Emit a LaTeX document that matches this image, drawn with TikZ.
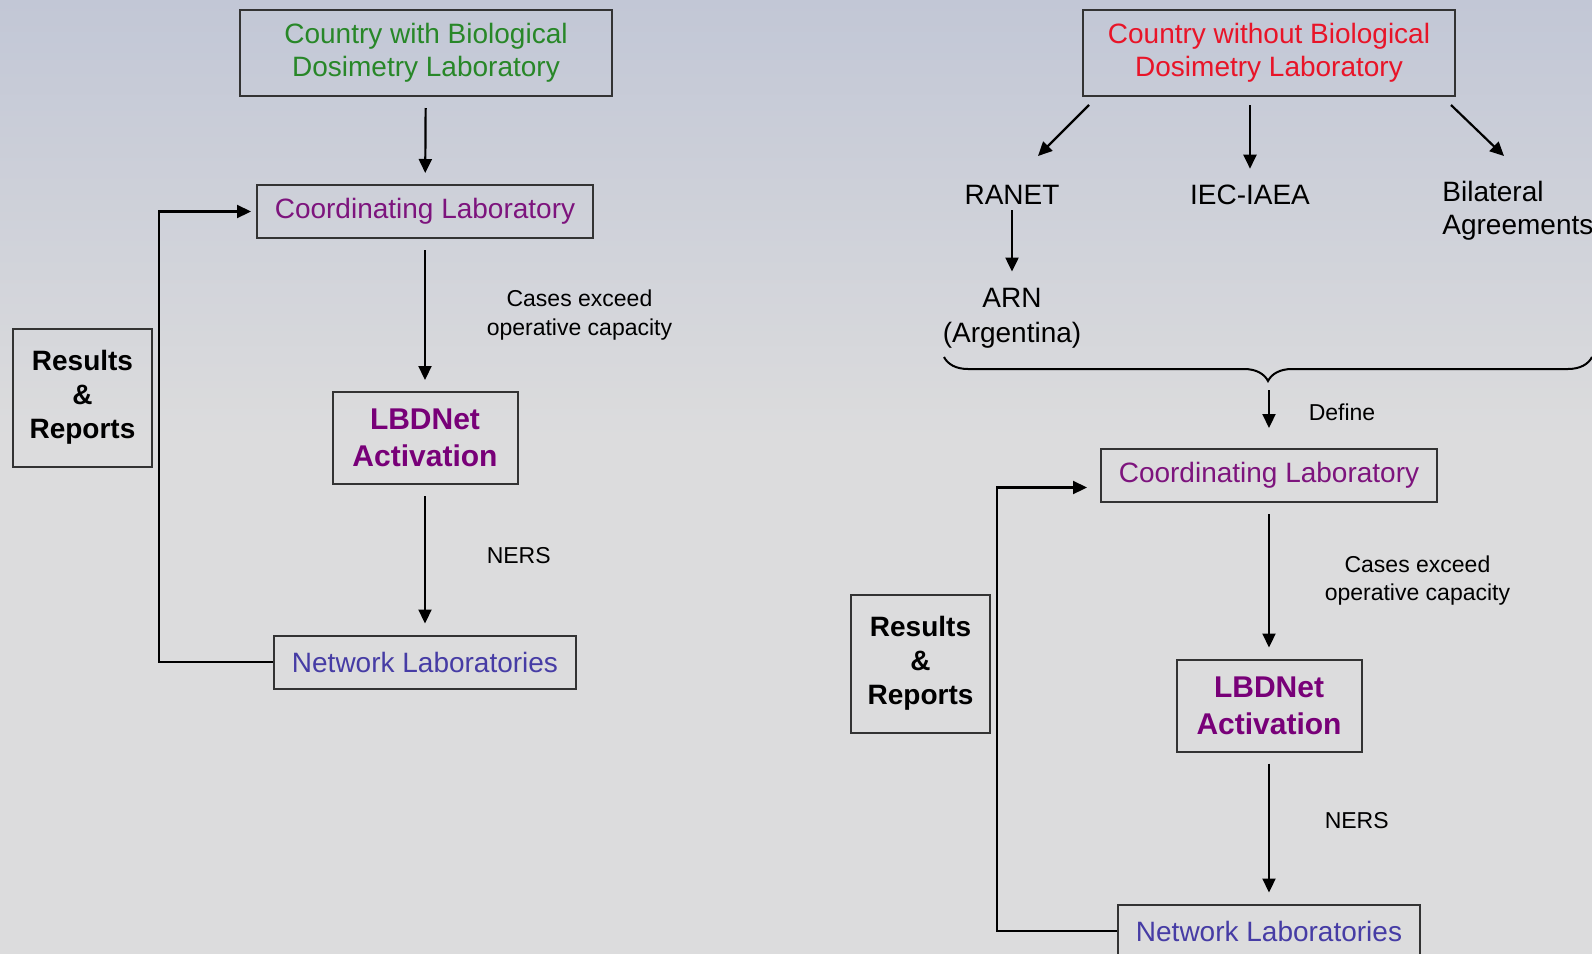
\documentclass[tikz,border=0pt]{standalone}
\usepackage{fontspec}
\setmainfont{Liberation Sans}
\usetikzlibrary{arrows.meta, decorations.pathreplacing}

\definecolor{bgtop}{RGB}{194,199,214}
\definecolor{bgbot}{RGB}{220,220,221}
\definecolor{cgreen}{RGB}{40,135,40}
\definecolor{cred}{RGB}{232,20,40}
\definecolor{cpurple}{RGB}{125,20,125}
\definecolor{cviolet}{RGB}{120,0,120}
\definecolor{cblue}{RGB}{70,60,165}

\tikzset{
  labbox/.style={draw=black!80, line width=1pt, align=center, inner sep=0pt},
  ctrybox/.style={labbox, minimum width=186pt, minimum height=43pt, font=\fontsize{14}{16.75}\selectfont},
  coordbox/.style={labbox, minimum width=168pt, minimum height=26.5pt, text=cpurple, font=\fontsize{14}{16.75}\selectfont},
  actbox/.style={labbox, minimum width=92.5pt, minimum height=46pt, text=cviolet, font=\bfseries\fontsize{15}{18.5}\selectfont},
  netbox/.style={labbox, minimum width=151pt, minimum height=26.5pt, text=cblue, font=\fontsize{14}{16.75}\selectfont},
  resbox/.style={labbox, minimum width=69.5pt, minimum height=69pt, font=\bfseries\fontsize{14}{17}\selectfont},
  lbl/.style={align=center, inner sep=0pt, font=\fontsize{14}{16.5}\selectfont},
  note/.style={align=center, font=\fontsize{11.5}{14.2}\selectfont},
  flow/.style={->, line width=1.1pt, shorten <=5.5pt, shorten >=5.5pt},
}

\begin{document}
\begin{tikzpicture}[x=0.5pt, y=-0.5pt, >={Triangle[length=7pt,width=6.5pt]}]
\useasboundingbox (0,0) rectangle (1592,954);
\fill[bgbot] (0,0) rectangle (1592,954);
\shade[top color=bgtop, bottom color=bgbot] (0,0) rectangle (1592,440);

% left: country with laboratory
\node[ctrybox, text=cgreen] (b1) at (426,53) {Country with Biological\\Dosimetry Laboratory};
\node[coordbox] (c1) at (425,211.5) {Coordinating Laboratory};
\node[actbox] (l1) at (425,438) {LBDNet\\Activation};
\node[netbox] (n1) at (425,662) {Network Laboratories};
\node[resbox] (r1) at (82.5,397.5) {Results\\\&\\Reports};
\draw[flow] (b1) -- (c1);
\draw[flow] (c1) -- node[note, right=27pt] {Cases exceed\\operative capacity} (l1);
\draw[flow] (l1) -- node[note, right=27pt, pos=0.47] {NERS} (n1);
\draw[->, line width=1.1pt, shorten >=2.5pt] (n1.west) -- ++(-114,0) |- (c1.west);

% right: country without laboratory
\node[ctrybox, text=cred] (b2) at (1269,53) {Country without Biological\\Dosimetry Laboratory};
\node[lbl] (ranet) at (1012,195) {RANET};
\node[lbl] (iec) at (1250,195) {IEC-IAEA};
\node[lbl, anchor=west, align=left] (bil) at (1442,211) {Bilateral\\Agreements};
\node[lbl, font=\fontsize{14}{17.5}\selectfont] (arn) at (1012,318) {ARN\\(Argentina)};
\draw[->, line width=1.1pt] ([shift={(3.5pt,-4pt)}]b2.south west) -- ++(-51,51);
\draw[flow, shorten <=4pt, shorten >=8pt] (iec.north |- b2.south) -- (iec.north);
\draw[->, line width=1.1pt] ([shift={(-2.5pt,-4pt)}]b2.south east) -- ++(53,51);
\draw[flow, shorten <=2.5pt, shorten >=8pt] (ranet) -- (arn);

\draw[line width=1pt, decorate, decoration={brace, mirror, amplitude=12pt}] (944,357) -- (1592,357);
\coordinate (tip) at (1269,383);

\node[coordbox] (c2) at (1269,475.5) {Coordinating Laboratory};
\node[actbox] (l2) at (1269,705.5) {LBDNet\\Activation};
\node[netbox] (n2) at (1269,931) {Network Laboratories};
\node[resbox] (r2) at (920.5,663.5) {Results\\\&\\Reports};
\draw[flow, shorten <=3.5pt, shorten >=10pt] (tip) -- node[note, right=16pt, pos=0.45] {Define} (c2);
\draw[flow] (c2) -- node[note, right=24pt] {Cases exceed\\operative capacity} (l2);
\draw[flow] (l2) -- node[note, right=24pt, pos=0.45] {NERS} (n2);
\draw[->, line width=1.1pt, shorten >=6.5pt] (n2.west) -- ++(-120,0) |- ([yshift=-6pt]c2.west);
\end{tikzpicture}
\end{document}
